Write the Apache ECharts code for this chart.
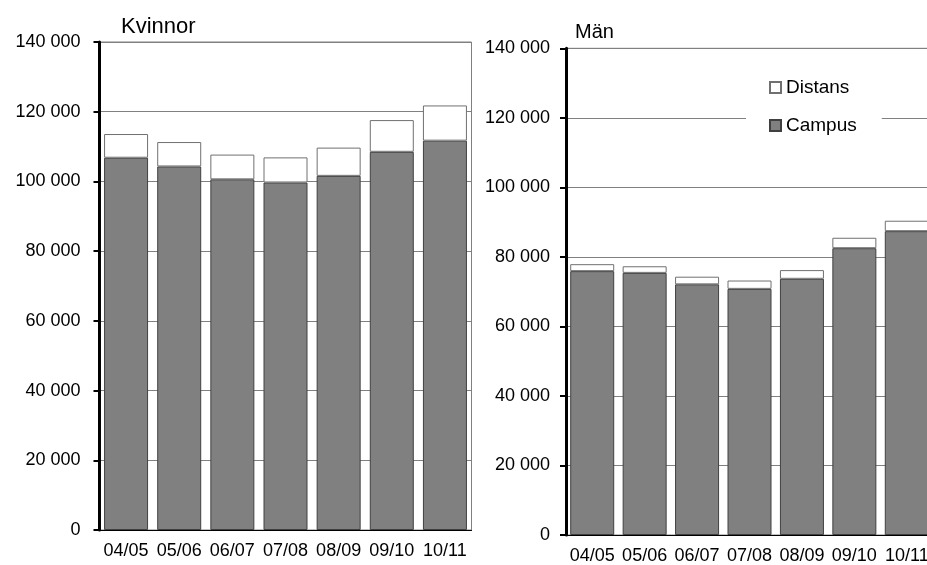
<!DOCTYPE html>
<html>
<head>
<meta charset="utf-8">
<script src="https://cdn.jsdelivr.net/npm/echarts@6/dist/echarts.min.js"></script>
<style>
html,body{margin:0;padding:0;background:#fff;}
#chart{width:927px;height:565px;}
</style>
</head>
<body>
<div id="chart"></div>
<script>
const categories = ['04/05', '05/06', '06/07', '07/08', '08/09', '09/10', '10/11'];
const kvinnorCampus = [106800, 104300, 100600, 99700, 101600, 108500, 111700];
const kvinnorDistans = [6800, 7000, 7100, 7200, 8100, 9100, 10100];
const manCampus = [75900, 75400, 72100, 70800, 73700, 82500, 87400];
const manDistans = [2000, 1900, 2200, 2400, 2500, 3000, 3000];
const titles = ['Kvinnor', 'Män'];
const legendNames = ['Distans', 'Campus'];

const FONT = '"Liberation Sans", Arial, sans-serif';
const fmt = v => String(v).replace(/\B(?=(\d{3})+(?!\d))/g, ' ');

function yAxis(gridIndex, margin) {
  return {
    type: 'value', gridIndex: gridIndex, min: 0, max: 140000, interval: 20000,
    axisLine: { show: true, lineStyle: { color: '#000', width: 3 } },
    axisTick: { show: true, inside: false, length: 6, lineStyle: { color: '#000', width: 2 } },
    axisLabel: { formatter: fmt, color: '#000', fontSize: 18, fontFamily: FONT, margin: margin },
    splitLine: { show: true, lineStyle: { color: '#808080', width: 1 } }
  };
}
function xAxis(gridIndex) {
  return {
    type: 'category', gridIndex: gridIndex, data: categories,
    axisLine: { show: true, lineStyle: { color: '#000', width: 1 } },
    axisTick: { show: false },
    axisLabel: { color: '#000', fontSize: 18, fontFamily: FONT, margin: 12, interval: 0 },
    splitLine: { show: false }
  };
}
const campusStyle = { color: '#808080', borderColor: '#404040', borderWidth: 1 };
const distansStyle = { color: '#ffffff', borderColor: '#707070', borderWidth: 1 };

const option = {
  animation: false,
  backgroundColor: '#fff',
  title: [
    { text: titles[0], left: 116, top: 11, textStyle: { fontSize: 22, fontWeight: 'normal', color: '#000', fontFamily: FONT } },
    { text: titles[1], left: 570, top: 17, textStyle: { fontSize: 20, fontWeight: 'normal', color: '#000', fontFamily: FONT } }
  ],
  legend: {
    data: legendNames, orient: 'vertical', left: 746, top: 68,
    backgroundColor: '#fff', padding: [10, 25, 10, 23],
    itemWidth: 11, itemHeight: 11, itemGap: 19, itemTextGap: 4,
    icon: 'rect',
    textStyle: { fontSize: 19, color: '#000', fontFamily: FONT }
  },
  grid: [
    { left: 99.5, top: 42, width: 372, height: 488, show: true, borderColor: '#808080', borderWidth: 1, backgroundColor: 'transparent', containLabel: false, outerBoundsMode: 'none' },
    { left: 566, top: 48.3, width: 367, height: 486.7, show: true, borderColor: '#808080', borderWidth: 1, backgroundColor: 'transparent', containLabel: false, outerBoundsMode: 'none' }
  ],
  xAxis: [xAxis(0), xAxis(1)],
  yAxis: [yAxis(0, 19), yAxis(1, 16)],
  series: [
    { name: 'Campus', type: 'bar', xAxisIndex: 0, yAxisIndex: 0, stack: 'k', data: kvinnorCampus, barWidth: 44, itemStyle: campusStyle },
    { name: 'Distans', type: 'bar', xAxisIndex: 0, yAxisIndex: 0, stack: 'k', data: kvinnorDistans, barWidth: 44, itemStyle: distansStyle },
    { name: 'Campus', type: 'bar', xAxisIndex: 1, yAxisIndex: 1, stack: 'm', data: manCampus, barWidth: 44, itemStyle: campusStyle },
    { name: 'Distans', type: 'bar', xAxisIndex: 1, yAxisIndex: 1, stack: 'm', data: manDistans, barWidth: 44, itemStyle: distansStyle }
  ]
};
const chart = echarts.init(document.getElementById('chart'), null, { renderer: 'canvas' });
chart.setOption(option);
</script>
</body>
</html>
